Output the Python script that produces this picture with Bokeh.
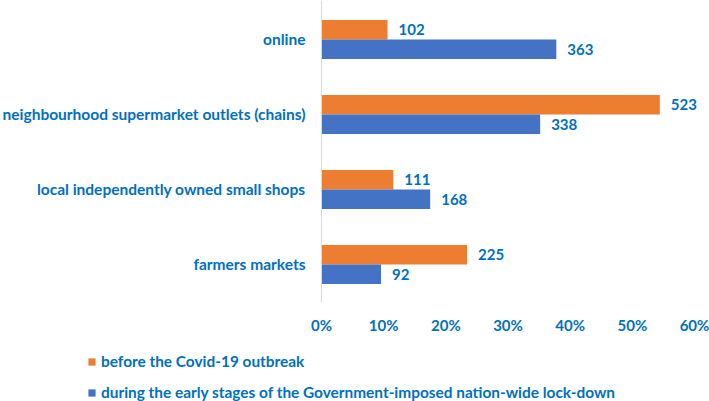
from bokeh.plotting import figure
from bokeh.models import ColumnDataSource, FixedTicker, NumeralTickFormatter, Legend, LegendItem, Range1d
from bokeh.transform import dodge
from bokeh.core.properties import value
from bokeh.embed import file_html
from bokeh.resources import INLINE

categories = ["online", "neighbourhood supermarket outlets (chains)",
              "local independently owned small shops", "farmers markets"]
before_counts = [102, 523, 111, 225]
during_counts = [363, 338, 168, 92]
series_names = ["before the Covid-19 outbreak",
                "during the early stages of the Government-imposed nation-wide lock-down"]
x_ticks = [0, 0.1, 0.2, 0.3, 0.4, 0.5, 0.6]

FONT = "Lato"
FS = "15px"
TXT = "#0070C0"
ORANGE = "#ED7D31"
BLUE = "#4472C4"

n = len(categories)
ypos = [n - 1 - i for i in range(n)]
tb = sum(before_counts)
td = sum(during_counts)
src = ColumnDataSource(dict(
    y=ypos,
    before=[c / tb for c in before_counts],
    during=[c / td for c in during_counts],
    before_lbl=[str(c) for c in before_counts],
    during_lbl=[str(c) for c in during_counts],
))

# frame fills the whole figure; axes are drawn at fixed locations inside it
Y_TOP, Y_BOT = 3.52, -1.8267
X_AXIS_AT = -0.5067
p = figure(width=709, height=401, output_backend="svg", toolbar_location=None,
           x_range=Range1d(-0.51635, 0.62413), y_range=Range1d(Y_BOT, Y_TOP),
           min_border_left=0, min_border_right=0, min_border_top=0, min_border_bottom=0)
p.outline_line_color = None
p.grid.visible = False

r1 = p.hbar(y=dodge("y", 0.13), left=0, right="before", height=0.26, source=src,
            fill_color=ORANGE, line_color=None)
r2 = p.hbar(y=dodge("y", -0.13), left=0, right="during", height=0.26, source=src,
            fill_color=BLUE, line_color=None)

for col, lbl, off in [("before", "before_lbl", 0.13), ("during", "during_lbl", -0.13)]:
    p.text(x=col, y=dodge("y", off), text=lbl, source=src, x_offset=11,
           text_baseline="middle", text_align="left", text_font=value(FONT),
           text_font_style="bold", text_font_size=FS, text_color=TXT)

xa = p.xaxis[0]
xa.fixed_location = X_AXIS_AT
xa.ticker = FixedTicker(ticks=x_ticks)
xa.formatter = NumeralTickFormatter(format="0%")
xa.axis_line_color = None
xa.major_tick_line_color = None
xa.minor_tick_line_color = None
xa.major_tick_out = 0
xa.major_tick_in = 0
xa.major_label_standoff = 13
xa.major_label_text_font = FONT
xa.major_label_text_font_style = "bold"
xa.major_label_text_font_size = FS
xa.major_label_text_color = TXT

ya = p.yaxis[0]
ya.fixed_location = 0
ya.bounds = (X_AXIS_AT, Y_TOP)
ya.ticker = FixedTicker(ticks=ypos)
ya.major_label_overrides = {y: c for y, c in zip(ypos, categories)}
ya.axis_line_color = "#D9D9D9"
ya.major_tick_line_color = None
ya.minor_tick_line_color = None
ya.major_tick_out = 0
ya.major_tick_in = 0
ya.major_label_standoff = 16
ya.major_label_text_font = FONT
ya.major_label_text_font_style = "bold"
ya.major_label_text_font_size = "15.5px"
ya.major_label_text_color = TXT

legend = Legend(items=[LegendItem(label=series_names[0], renderers=[r1]),
                       LegendItem(label=series_names[1], renderers=[r2])],
                location=(87, -1), orientation="vertical",
                glyph_width=9, glyph_height=9, label_standoff=5, spacing=11,
                label_height=20, padding=0, margin=0,
                border_line_color=None, background_fill_alpha=0,
                label_text_font=FONT, label_text_font_style="bold",
                label_text_font_size="15.4px", label_text_color=TXT)
p.add_layout(legend)

open("out.html", "w").write(file_html(p, INLINE))
